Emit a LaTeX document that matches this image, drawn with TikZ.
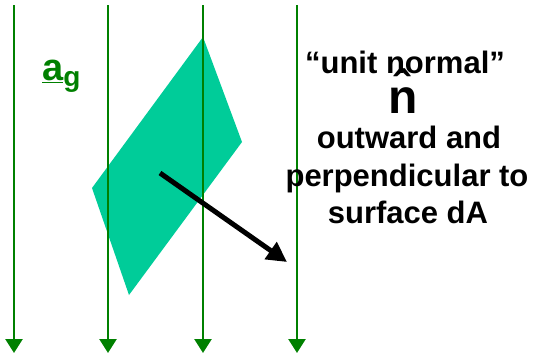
\documentclass[tikz,border=0pt]{standalone}
\usepackage{fontspec}
\setmainfont{Liberation Sans}
\usetikzlibrary{arrows.meta}
\definecolor{fieldgreen}{HTML}{008000}
\definecolor{patchteal}{HTML}{00CC99}
\tikzset{
fieldline/.style={draw=fieldgreen,line width=2.6pt,-{Triangle[length=14pt,width=17pt]}},
patch/.style={fill=patchteal,draw=none},
normalarrow/.style={draw=black,line width=5pt,-{Triangle[length=20pt,width=20pt]}},
label/.style={font=\fontsize{31}{37}\selectfont\bfseries,inner sep=0pt,anchor=base},
hatlabel/.style={font=\fontsize{48}{50}\selectfont\bfseries,inner sep=0pt,anchor=base},
accel/.style={font=\fontsize{38}{40}\selectfont\bfseries,text=fieldgreen,inner sep=0pt,anchor=base west}
}
\begin{document}
\begin{tikzpicture}[x=1pt,y=-1pt]
\useasboundingbox (0,0) rectangle (536,354);
% surface element dA
\path[patch] (203,37) -- (242,142) -- (129,295) -- (92,188) -- cycle;
% field lines
\foreach \i/\x in {1/14,2/108,3/203,4/297} {
  \coordinate (top\i) at (\x,5);
  \coordinate (bot\i) at (\x,353);
  \draw[fieldline] (top\i) -- (bot\i);
}
% unit normal
\coordinate (foot) at (160,173);
\coordinate (tip) at (287,262);
\draw[normalarrow] (foot) -- (tip);
\node[accel] (ag) at (42,80) {\underline{a}\fontsize{28}{30}\selectfont\raisebox{-6pt}{g}};
\node[label] (title) at (405,73) {“unit normal”};
\node[hatlabel] (nhat) at (403,113) {\^n};
\node[label] (line1) at (409,148) {outward and};
\node[label] (line2) at (407,186) {perpendicular to};
\node[label] (line3) at (408,223) {surface dA};
\end{tikzpicture}
\end{document}
